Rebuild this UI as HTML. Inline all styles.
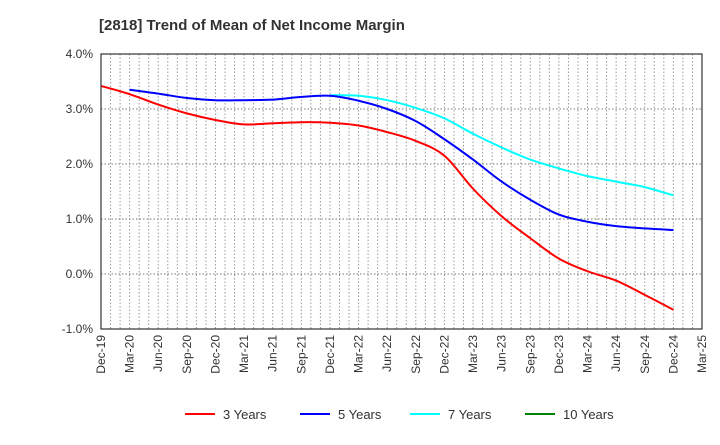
<!DOCTYPE html>
<html><head><meta charset="utf-8"><style>
body{margin:0;background:#fff;font-family:"Liberation Sans",Arial,sans-serif;}
</style></head><body>
<svg id="c" width="720" height="440" xmlns="http://www.w3.org/2000/svg">
<text x="99" y="30" font-size="15" font-weight="bold" fill="#333">[2818]  Trend of Mean of Net Income Margin</text>
<g id="grid"></g><g id="series"></g><g id="axes"></g><g id="legend"></g>
</svg>
<script>
const xLabels=["Dec-19","Mar-20","Jun-20","Sep-20","Dec-20","Mar-21","Jun-21","Sep-21","Dec-21","Mar-22","Jun-22","Sep-22","Dec-22","Mar-23","Jun-23","Sep-23","Dec-23","Mar-24","Jun-24","Sep-24","Dec-24","Mar-25"];
const yTicks=[4,3,2,1,0,-1];
const y3=[3.42,3.27,3.08,2.92,2.80,2.72,2.74,2.76,2.75,2.70,2.58,2.42,2.15,1.55,1.05,0.65,0.28,0.05,-0.12,-0.38,-0.65];
const y5=[null,3.35,3.28,3.20,3.16,3.16,3.17,3.22,3.24,3.15,3.00,2.78,2.45,2.08,1.68,1.35,1.08,0.95,0.87,0.83,0.80];
const y7=[null,null,null,null,null,null,null,null,3.25,3.24,3.16,3.02,2.83,2.55,2.30,2.08,1.92,1.78,1.68,1.58,1.43];
const y10=[];
const names=["3 Years","5 Years","7 Years","10 Years"];
const colors=["#ff0000","#0000ff","#00ffff","#008000"];
const L=101,R=702,T=54,B=329,ymin=-1,ymax=4;
const months=63;
const xq=i=>L+(R-L)*(i*3)/months;
const xm=m=>L+(R-L)*m/months;
const ys=v=>B-(v-ymin)/(ymax-ymin)*(B-T);
const NS="http://www.w3.org/2000/svg";
function mk(tag,attrs,parent){const e=document.createElementNS(NS,tag);for(const k in attrs)e.setAttribute(k,attrs[k]);parent.appendChild(e);return e;}
const grid=document.getElementById('grid'),axes=document.getElementById('axes'),ser=document.getElementById('series'),leg=document.getElementById('legend');
for(let m=1;m<months;m++){const l=mk('line',{x1:xm(m),x2:xm(m),y1:T,y2:B,stroke:'#999','stroke-dasharray':'1.5,2','stroke-width':1},grid);

}
yTicks.forEach(v=>{if(v!==ymin&&v!==ymax){const l=mk('line',{x1:L,x2:R,y1:ys(v),y2:ys(v),stroke:'#777','stroke-dasharray':'1.5,2','stroke-width':1},grid);

}
const t=mk('text',{x:L-8,y:ys(v)+4,'text-anchor':'end','font-size':12,fill:'#333'},axes);t.textContent=v.toFixed(1)+'%';

});
const fr=mk('rect',{x:L,y:T,width:R-L,height:B-T,fill:'none',stroke:'#333','stroke-width':1.2},axes);


xLabels.forEach((s,i)=>{const x=xq(i);const t=mk('text',{transform:`translate(${x+4},${B+6}) rotate(-90)`,'text-anchor':'end','font-size':12,fill:'#333'},axes);t.textContent=s;

});
function path(vals){const p=[];vals.forEach((v,i)=>{if(v!=null)p.push([xq(i),ys(v)]);});if(p.length<2)return '';
let d=`M${p[0][0]},${p[0][1]}`;for(let i=0;i<p.length-1;i++){const p0=p[i-1]||p[i],p1=p[i],p2=p[i+1],p3=p[i+2]||p2;
d+=` C${p1[0]+(p2[0]-p0[0])/6},${p1[1]+(p2[1]-p0[1])/6} ${p2[0]-(p3[0]-p1[0])/6},${p2[1]-(p3[1]-p1[1])/6} ${p2[0]},${p2[1]}`;}return d;}
[y7,y5,y3,y10].forEach((vals,k)=>{const idx=[2,1,0,3][k];const d=path(vals);if(!d)return;
const e=mk('path',{d:d,fill:'none',stroke:colors[idx],'stroke-width':2},ser);

});
const lx=[185,300,410,525];
names.forEach((n,i)=>{const g=mk('g',{},leg);


mk('line',{x1:lx[i],x2:lx[i]+30,y1:414,y2:414,stroke:colors[i],'stroke-width':2},g);
const t=mk('text',{x:lx[i]+38,y:419,'font-size':13,fill:'#333'},g);t.textContent=n;});
</script>
</body></html>
